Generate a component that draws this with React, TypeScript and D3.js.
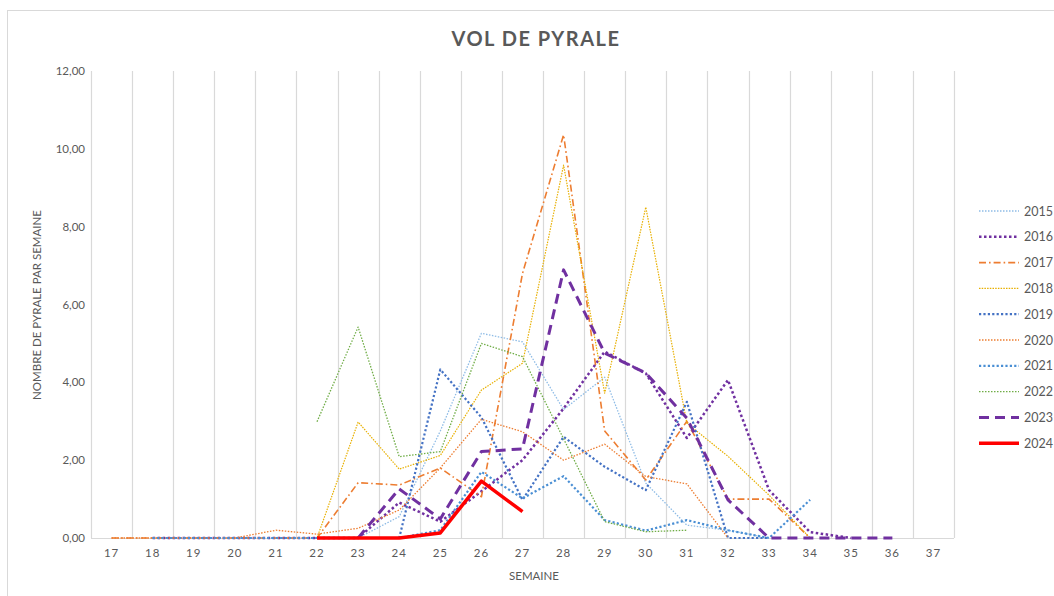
import React, { useEffect, useRef } from "react";
import * as d3 from "d3";

const WEEKS = [17, 18, 19, 20, 21, 22, 23, 24, 25, 26, 27, 28, 29, 30, 31, 32, 33, 34, 35, 36, 37];
const Y_TICKS = [0, 2, 4, 6, 8, 10, 12];

// values start at the given week
const Y2015 = [0, 0.55, 2.75, 5.26, 5.04, 3.3, 4.13, 1.41, 0.33, 0.2, 0];
const Y2016 = [0, 0, 0, 0, 0, 0, 0.91, 0.42, 1.2, 2.0, 3.33, 4.79, 4.23, 2.57, 4.06, 1.23, 0.15, 0];
const Y2017 = [0, 0, 0, 0, 0, 0, 1.42, 1.36, 1.8, 1.06, 6.8, 10.36, 2.75, 1.49, 3.0, 1.0, 1.0, 0];
const Y2018 = [0, 2.98, 1.77, 2.12, 3.8, 4.49, 9.58, 3.72, 8.5, 2.95, 2.1, 1.1, 0];
const Y2019 = [0, 0, 0, 0, 0, 0, 0, 4.33, 3.1, 0.98, 2.6, 1.83, 1.23, 3.5, 0, 0];
const Y2020 = [0, 0, 0, 0, 0.2, 0.1, 0.25, 0.72, 1.8, 3.05, 2.73, 2.0, 2.41, 1.58, 1.39, 0];
const Y2021 = [0, 0, 0, 0, 0, 0, 0, 0.2, 1.7, 1.02, 1.59, 0.46, 0.19, 0.46, 0.2, 0, 0.98];
const Y2022 = [2.99, 5.42, 2.09, 2.22, 5.0, 4.66, 2.55, 0.42, 0.16, 0.2];
const Y2023 = [0, 1.26, 0.49, 2.22, 2.29, 6.89, 4.75, 4.24, 3.08, 0.98, 0, 0, 0, 0];
const Y2024 = [0, 0, 0, 0.13, 1.46, 0.68];

const SERIES = [
  { name: "2015", start: 23, values: Y2015, color: "#8FBCE6", width: 1.3, dash: "1.5 1.5" },
  { name: "2016", start: 18, values: Y2016, color: "#7030A0", width: 2.5, dash: "2.5 2.5" },
  { name: "2017", start: 17, values: Y2017, color: "#ED7D31", width: 1.6, dash: "7 3 1.6 3" },
  { name: "2018", start: 22, values: Y2018, color: "#E8B000", width: 1.2, dash: "1.5 1.2" },
  { name: "2019", start: 18, values: Y2019, color: "#4472C4", width: 2.2, dash: "2.2 2.2" },
  { name: "2020", start: 17, values: Y2020, color: "#ED7D31", width: 1.3, dash: "1.5 1.5" },
  { name: "2021", start: 18, values: Y2021, color: "#4A8FD4", width: 2.2, dash: "2.2 2.2" },
  { name: "2022", start: 22, values: Y2022, color: "#70AD47", width: 1.3, dash: "1.5 1.5" },
  { name: "2023", start: 23, values: Y2023, color: "#7030A0", width: 3, dash: "10 6" },
  { name: "2024", start: 22, values: Y2024, color: "#FF0000", width: 3.5, dash: null },
];

const App = () => {
  const svgRef = useRef<SVGSVGElement>(null);

  useEffect(() => {
    const svg = d3.select(svgRef.current);
    svg.selectAll("*").remove();
    const width = 1054;
    const height = 596;
    const font = "Lato, 'Open Sans', sans-serif";
    const grey = "#595959";

    const x = d3.scaleBand<number>().domain(WEEKS).range([91, 954]).padding(0);
    const y = d3.scaleLinear().domain([0, 12]).range([538, 71]);
    const bw = x.bandwidth();

    // chart frame
    svg
      .append("rect")
      .attr("x", 7.5)
      .attr("y", 10.5)
      .attr("width", 1060)
      .attr("height", 600)
      .attr("fill", "white")
      .attr("stroke", "#D9D9D9");

    // vertical grid at category boundaries
    const bounds = WEEKS.map((w) => x(w)!).concat([x(WEEKS[WEEKS.length - 1])! + bw]);
    svg
      .append("g")
      .selectAll("line")
      .data(bounds)
      .enter()
      .append("line")
      .attr("x1", (d) => Math.round(d) + 0.5)
      .attr("x2", (d) => Math.round(d) + 0.5)
      .attr("y1", y(12))
      .attr("y2", y(0))
      .attr("stroke", "#D9D9D9")
      .attr("stroke-width", 1.2);

    svg
      .append("line")
      .attr("x1", 91)
      .attr("x2", 954)
      .attr("y1", y(0) + 0.5)
      .attr("y2", y(0) + 0.5)
      .attr("stroke", "#D9D9D9")
      .attr("stroke-width", 1.2);

    // y tick labels
    svg
      .append("g")
      .selectAll("text")
      .data(Y_TICKS)
      .enter()
      .append("text")
      .attr("x", 85)
      .attr("y", (d) => y(d) + 4)
      .attr("text-anchor", "end")
      .style("font-family", font)
      .style("font-size", "11.5px")
      .attr("fill", grey)
      .text((d) => d.toFixed(2).replace(".", ","));

    // x tick labels
    svg
      .append("g")
      .selectAll("text")
      .data(WEEKS)
      .enter()
      .append("text")
      .attr("x", (d) => x(d)! + bw / 2)
      .attr("y", 557)
      .attr("text-anchor", "middle")
      .style("font-family", font)
      .style("font-size", "11.5px")
      .style("letter-spacing", "1px")
      .attr("fill", grey)
      .text((d) => String(d));

    // lines
    const line = d3
      .line<[number, number]>()
      .x((d) => x(d[0])! + bw / 2)
      .y((d) => y(d[1]));

    SERIES.forEach((s) => {
      const pts: [number, number][] = s.values.map((v, i) => [s.start + i, v]);
      svg
        .append("path")
        .attr("d", line(pts)!)
        .attr("fill", "none")
        .attr("stroke", s.color)
        .attr("stroke-width", s.width)
        .attr("stroke-dasharray", s.dash ?? null)
        .attr("stroke-linejoin", "round");
    });

    // legend
    const lg = svg.append("g");
    SERIES.forEach((s, i) => {
      const ly = 211 + i * 25.8;
      lg.append("line")
        .attr("x1", 979)
        .attr("x2", 1019)
        .attr("y1", ly)
        .attr("y2", ly)
        .attr("stroke", s.color)
        .attr("stroke-width", s.width)
        .attr("stroke-dasharray", s.dash ?? null);
      lg.append("text")
        .attr("x", 1024)
        .attr("y", ly + 4.5)
        .style("font-family", font)
        .style("font-size", "12.5px")
        .attr("fill", grey)
        .text(s.name);
    });

    // titles
    svg
      .append("text")
      .attr("x", 536)
      .attr("y", 46)
      .attr("text-anchor", "middle")
      .style("font-family", font)
      .style("font-size", "20px")
      .style("font-weight", "bold")
      .style("letter-spacing", "1.5px")
      .attr("fill", grey)
      .text("VOL DE PYRALE");

    svg
      .append("text")
      .attr("x", 534)
      .attr("y", 580)
      .attr("text-anchor", "middle")
      .style("font-family", font)
      .style("font-size", "11.5px")
      .attr("fill", grey)
      .text("SEMAINE");

    svg
      .append("text")
      .attr("transform", "translate(41,305) rotate(-90)")
      .attr("text-anchor", "middle")
      .style("font-family", font)
      .style("font-size", "11.5px")
      .attr("fill", grey)
      .text("NOMBRE DE PYRALE PAR SEMAINE");

    svg.attr("width", width).attr("height", height);
  }, []);

  return (
    <svg
      ref={svgRef}
      width="1054"
      height="596"
      style={{ position: "absolute", left: 0, top: 0, background: "white" }}
    ></svg>
  );
};

export default App;
